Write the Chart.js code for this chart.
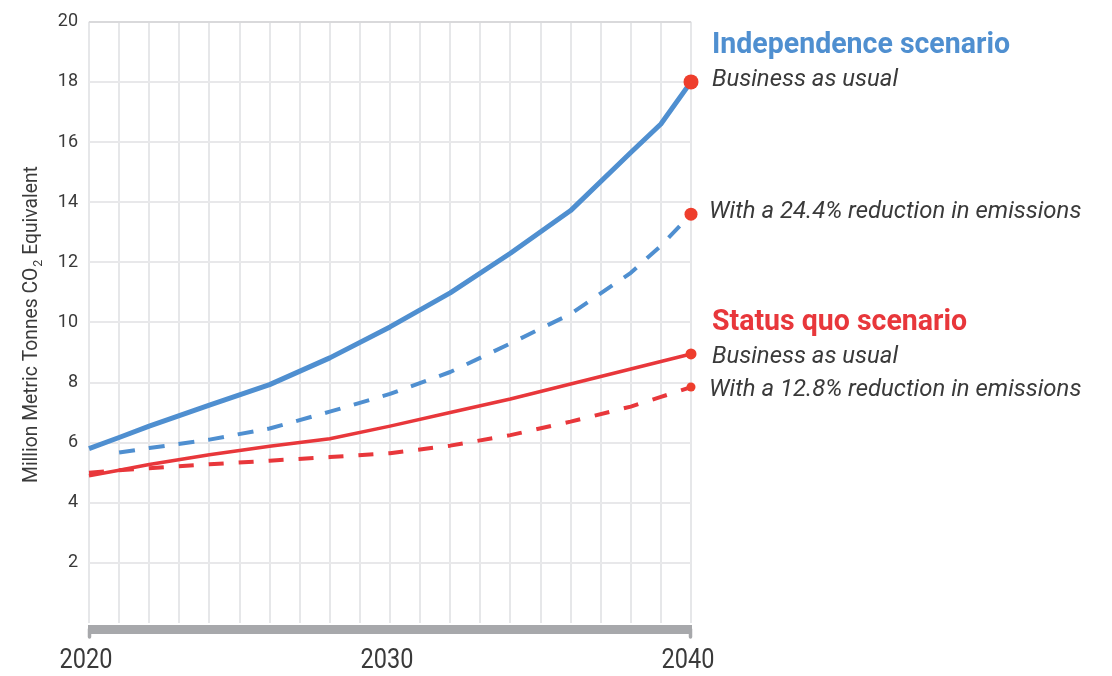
<!DOCTYPE html>
<html>
<head>
<meta charset="utf-8">
<title>Emissions scenarios</title>
<script src="https://cdn.jsdelivr.net/npm/chart.js@4.4.1/dist/chart.umd.min.js"></script>
<style>
  html, body { margin: 0; padding: 0; background: #ffffff; }
  #wrap { width: 1112px; height: 676px; position: relative; }
</style>
</head>
<body>
<div id="wrap"><canvas id="chart" width="1112" height="676"></canvas></div>
<script>
// Years with readings (million metric tonnes CO2 equivalent)
const years = [2020, 2021, 2022, 2024, 2026, 2028, 2030, 2032, 2034, 2036, 2038, 2039, 2040];

const independenceBAU     = [5.80, 6.17, 6.55, 7.25, 7.93, 8.82, 9.85, 10.98, 12.30, 13.72, 15.65, 16.60, 18.00];
const independenceReduced = [null, 5.67, 5.82, 6.10, 6.47, 7.03, 7.62, 8.35, 9.30, 10.28, 11.65, 12.55, 13.60];
const statusQuoBAU        = [4.90, 5.08, 5.27, 5.60, 5.88, 6.13, 6.55, 7.00, 7.45, 7.95, 8.45, 8.70, 8.95];
const statusQuoReduced    = [5.00, 5.08, 5.15, 5.28, 5.40, 5.52, 5.65, 5.90, 6.25, 6.70, 7.20, 7.52, 7.85];

const xTickLabels = [2020, 2030, 2040];
const yTickValues = [2, 4, 6, 8, 10, 12, 14, 16, 18, 20];

const yAxisTitle = ['Million Metric Tonnes CO', '2', ' Equivalent'];
const headerIndependence = 'Independence scenario';
const headerStatusQuo = 'Status quo scenario';
const labelBAU = 'Business as usual';
const labelReduced244 = 'With a 24.4% reduction in emissions';
const labelReduced128 = 'With a 12.8% reduction in emissions';

const BLUE = '#4f8fd0';
const RED = '#e8373b';
const DOT = '#ee3e2d';
const TEXT = '#3a3a3a';
const SANS = 'Roboto, "Noto Sans", sans-serif';

function points(values) {
  return years.map((yr, i) => ({ x: yr, y: values[i] }));
}
function endDot(r) {
  return (c) => (c.dataIndex === years.length - 1 ? r : 0);
}

// Text drawn with a horizontal squeeze to get a condensed face
function squeezed(ctx, text, x, y, font, color, sx, align) {
  ctx.save();
  ctx.font = font;
  ctx.fillStyle = color;
  ctx.textBaseline = 'middle';
  ctx.textAlign = align || 'left';
  ctx.translate(x, y);
  ctx.scale(sx, 1);
  ctx.fillText(text, 0, 0);
  ctx.restore();
}

const annotations = {
  id: 'annotations',
  afterDraw(chart) {
    const ctx = chart.ctx;
    const xs = chart.scales.x;
    const ys = chart.scales.y;
    const left = xs.left, right = xs.right, bottom = ys.bottom;

    // Heavy base bar under the plot with small end stubs
    ctx.save();
    ctx.fillStyle = '#a7a8ab';
    ctx.fillRect(left - 1, bottom + 2, right - left + 2, 9);
    ctx.lineCap = 'round';
    ctx.strokeStyle = '#a7a8ab';
    ctx.lineWidth = 3.5;
    ctx.beginPath();
    ctx.moveTo(left + 0.5, bottom + 6); ctx.lineTo(left + 0.5, bottom + 14);
    ctx.moveTo(right - 0.5, bottom + 6); ctx.lineTo(right - 0.5, bottom + 14);
    ctx.stroke();
    ctx.restore();

    // Year labels
    xTickLabels.forEach((yr) => {
      squeezed(ctx, String(yr), xs.getPixelForValue(yr) - 3, 661, '400 28px ' + SANS, TEXT, 0.84, 'center');
    });

    // Rotated axis title with subscript
    ctx.save();
    ctx.translate(32, 325);
    ctx.rotate(-Math.PI / 2);
    ctx.scale(0.965, 1);
    ctx.textBaseline = 'middle';
    ctx.fillStyle = TEXT;
    const mainFont = '400 20px ' + SANS;
    const subFont = '400 13px ' + SANS;
    ctx.font = mainFont;
    const w0 = ctx.measureText(yAxisTitle[0]).width;
    const w2 = ctx.measureText(yAxisTitle[2]).width;
    ctx.font = subFont;
    const w1 = ctx.measureText(yAxisTitle[1]).width;
    let cx = -(w0 + w1 + w2) / 2;
    ctx.font = mainFont;
    ctx.textAlign = 'left';
    ctx.fillText(yAxisTitle[0], cx, 0);
    cx += w0;
    ctx.font = subFont;
    ctx.fillText(yAxisTitle[1], cx + 1, 7);
    cx += w1 + 1;
    ctx.font = mainFont;
    ctx.fillText(yAxisTitle[2], cx, 0);
    ctx.restore();

    // End-of-line labels
    const last = years.length - 1;
    const yIndBAU = ys.getPixelForValue(independenceBAU[last]);
    const yIndRed = ys.getPixelForValue(independenceReduced[last]);
    const ySqBAU = ys.getPixelForValue(statusQuoBAU[last]);
    const ySqRed = ys.getPixelForValue(statusQuoReduced[last]);
    const tx = right + 21;
    const bold = '700 30px ' + SANS;
    const ital = 'italic 400 23px ' + SANS;
    squeezed(ctx, headerIndependence, tx, yIndBAU - 36, bold, BLUE, 0.95);
    squeezed(ctx, labelBAU, tx, yIndBAU - 2, ital, TEXT, 1.04);
    squeezed(ctx, labelReduced244, tx - 3, yIndRed - 2, ital, TEXT, 1.04);
    squeezed(ctx, headerStatusQuo, tx, ySqBAU - 31, bold, RED, 0.95);
    squeezed(ctx, labelBAU, tx, ySqBAU + 3, ital, TEXT, 1.04);
    squeezed(ctx, labelReduced128, tx - 3, ySqRed + 3, ital, TEXT, 1.04);
  }
};

new Chart(document.getElementById('chart'), {
  type: 'line',
  data: {
    datasets: [
      {
        label: 'Independence scenario, business as usual',
        data: points(independenceBAU),
        borderColor: BLUE, borderWidth: 5,
        pointRadius: endDot(7.5), pointBackgroundColor: DOT, pointBorderWidth: 0,
        order: 1
      },
      {
        label: 'Independence scenario, 24.4% reduction',
        data: points(independenceReduced),
        borderColor: BLUE, borderWidth: 4, borderDash: [16, 14], borderCapStyle: 'butt',
        pointRadius: endDot(6.5), pointBackgroundColor: DOT, pointBorderWidth: 0,
        order: 3
      },
      {
        label: 'Status quo scenario, business as usual',
        data: points(statusQuoBAU),
        borderColor: RED, borderWidth: 3.5,
        pointRadius: endDot(5.5), pointBackgroundColor: DOT, pointBorderWidth: 0,
        order: 2
      },
      {
        label: 'Status quo scenario, 12.8% reduction',
        data: points(statusQuoReduced),
        borderColor: RED, borderWidth: 4, borderDash: [15, 15], borderCapStyle: 'butt',
        pointRadius: endDot(4.5), pointBackgroundColor: DOT, pointBorderWidth: 0,
        order: 4
      }
    ]
  },
  options: {
    responsive: false,
    animation: false,
    devicePixelRatio: 1,
    layout: { padding: { top: 20, right: 421, left: 0, bottom: 0 } },
    elements: { line: { tension: 0, borderJoinStyle: 'round', fill: false }, point: { hitRadius: 0 } },
    datasets: { line: { clip: false, spanGaps: false } },
    plugins: { legend: { display: false }, tooltip: { enabled: false } },
    scales: {
      x: {
        type: 'linear',
        min: 2020, max: 2040,
        afterFit: (s) => { s.height = 53; },
        border: { display: false },
        grid: { color: '#e6e7e9', lineWidth: 2, drawTicks: false },
        ticks: { display: false, stepSize: 1, autoSkip: false }
      },
      y: {
        min: 0, max: 20,
        afterFit: (s) => { s.width = 89; },
        afterBuildTicks: (s) => { s.ticks = [0].concat(yTickValues).map((v) => ({ value: v })); },
        border: { display: false },
        grid: {
          drawTicks: false,
          lineWidth: 2,
          color: (c) => (c.tick && c.tick.value === 20 ? '#d9d9db' : (c.tick && c.tick.value === 0 ? 'rgba(0,0,0,0)' : '#e8e8ea'))
        },
        ticks: {
          padding: 11,
          color: TEXT,
          font: { family: SANS, size: 18 },
          callback: (v) => (v === 0 ? '' : String(v))
        }
      }
    }
  },
  plugins: [annotations]
});
</script>
</body>
</html>
